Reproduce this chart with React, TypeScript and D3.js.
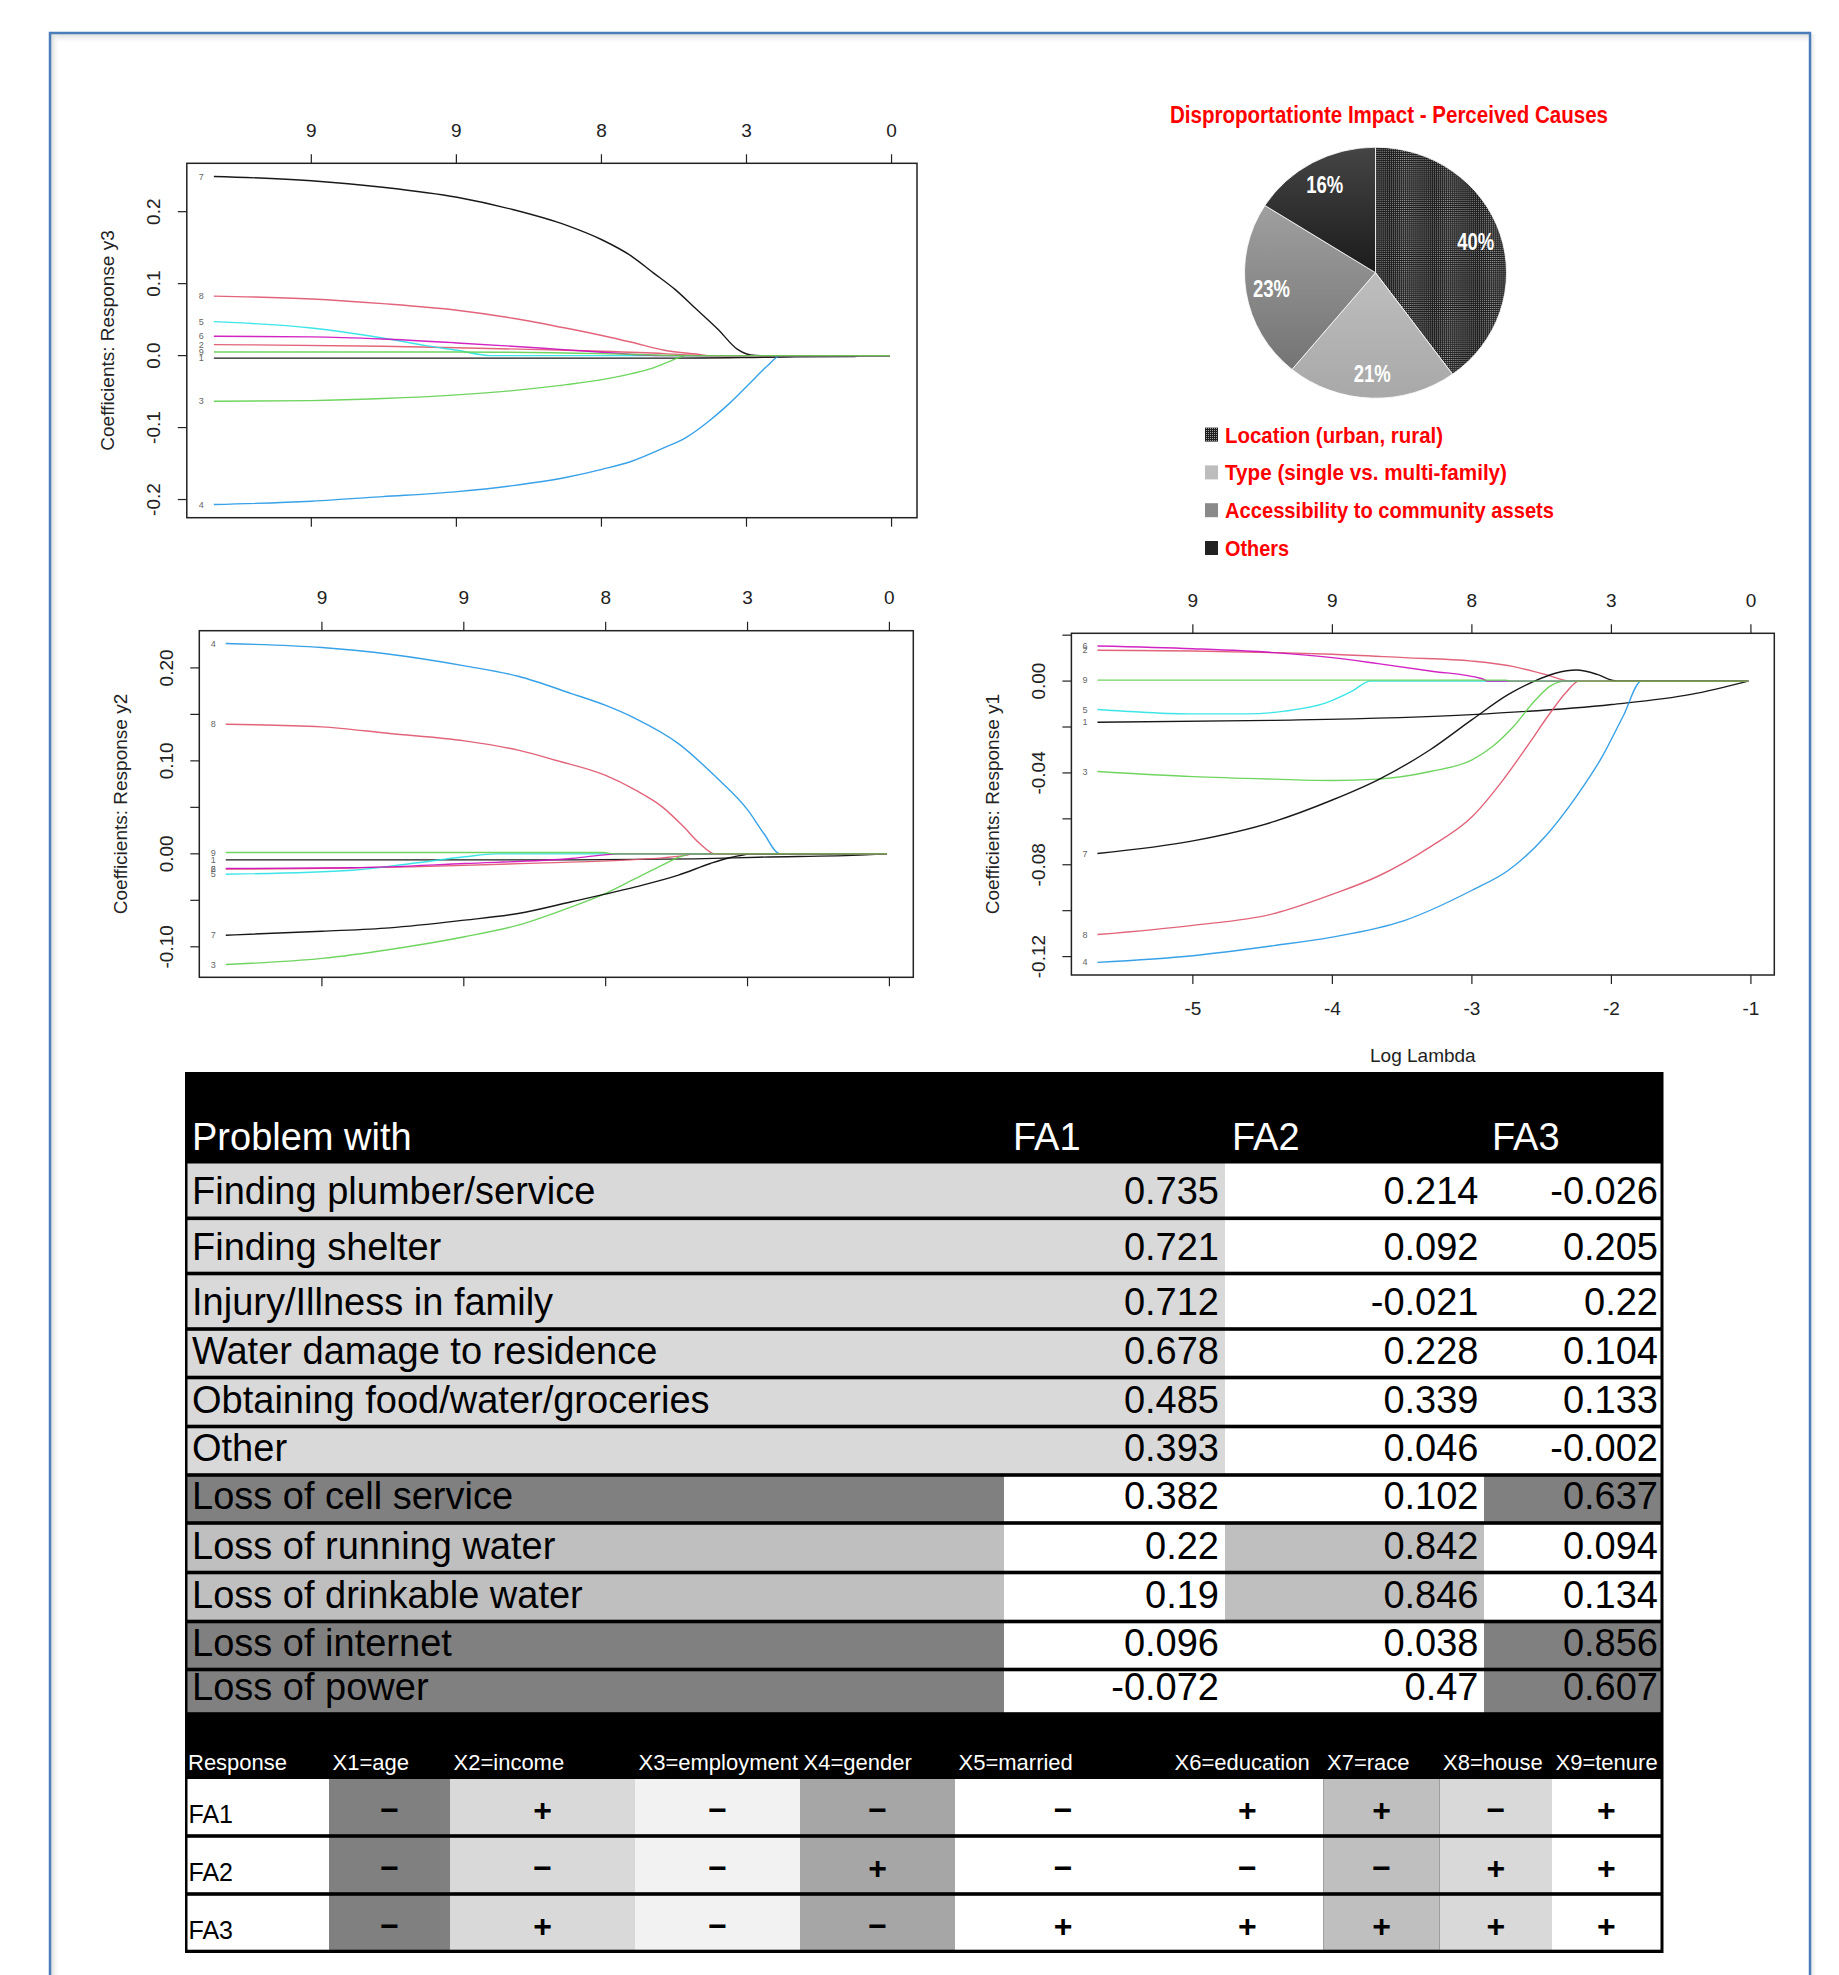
import React from "react";
import * as d3 from "d3";

type Pt = [number, number];
interface Series { v: number; pts: Pt[] }

// ---------- DATA ----------
const xTicks = [-5, -4, -3, -2, -1];
const xTickLabels = ["-5", "-4", "-3", "-2", "-1"];
const topCounts = ["9", "9", "8", "3", "0"];

const y3Ticks = [-0.2, -0.1, 0, 0.1, 0.2];
const y3TickLabels = ["-0.2", "-0.1", "0.0", "0.1", "0.2"];
const y2Ticks = [-0.1, -0.05, 0, 0.05, 0.1, 0.15, 0.2];
const y2TickLabels = ["-0.10", "", "0.00", "", "0.10", "", "0.20"];
const y1Ticks = [-0.12, -0.1, -0.08, -0.06, -0.04, -0.02, 0, 0.02];
const y1TickLabels = ["-0.12", "", "-0.08", "", "-0.04", "", "0.00", ""];

const y3Series: Series[] = [
  { v: 1, pts: [[-5.672, -0.0035], [-2.493, -0.0035], [-1.728, -0.0019], [-1.261, -0.0014], [-1.22, 0], [-1.011, 0]] },
  { v: 2, pts: [[-5.672, 0.0153], [-4.508, 0.013], [-3.996, 0.011], [-3.425, 0.0083], [-2.997, 0.006], [-2.567, 0.0028], [-2.306, 0], [-1.011, 0]] },
  { v: 3, pts: [[-5.672, -0.0634], [-5.0, -0.0625], [-4.508, -0.0597], [-3.996, -0.0546], [-3.612, -0.0486], [-3.239, -0.0403], [-2.997, -0.0333], [-2.791, -0.025], [-2.642, -0.0171], [-2.53, -0.0079], [-2.456, -0.0019], [-2.418, 0], [-1.011, 0]] },
  { v: 4, pts: [[-5.672, -0.207], [-5.0, -0.2023], [-4.508, -0.196], [-3.996, -0.189], [-3.612, -0.1806], [-3.239, -0.169], [-2.997, -0.158], [-2.791, -0.1468], [-2.567, -0.128], [-2.418, -0.114], [-2.269, -0.0926], [-2.119, -0.0667], [-1.97, -0.037], [-1.859, -0.0148], [-1.765, 0], [-1.011, 0]] },
  { v: 5, pts: [[-5.672, 0.0472], [-5.0, 0.0384], [-4.508, 0.0245], [-4.209, 0.0139], [-3.996, 0.0074], [-3.761, 0], [-1.011, 0]] },
  { v: 6, pts: [[-5.672, 0.0269], [-5.0, 0.026], [-4.508, 0.023], [-3.996, 0.0176], [-3.425, 0.0106], [-2.997, 0.0046], [-2.567, 0], [-1.011, 0]] },
  { v: 7, pts: [[-5.672, 0.249], [-5.0, 0.243], [-4.508, 0.234], [-3.996, 0.22], [-3.612, 0.203], [-3.239, 0.181], [-2.997, 0.161], [-2.791, 0.138], [-2.642, 0.115], [-2.493, 0.092], [-2.343, 0.064], [-2.194, 0.036], [-2.064, 0.009], [-1.97, 0.001], [-1.9, 0], [-1.011, 0]] },
  { v: 8, pts: [[-5.672, 0.0826], [-5.0, 0.0787], [-4.508, 0.0722], [-3.996, 0.063], [-3.612, 0.052], [-3.239, 0.038], [-2.997, 0.028], [-2.791, 0.0185], [-2.567, 0.0074], [-2.306, 0.001], [-2.269, 0], [-1.011, 0]] },
  { v: 9, pts: [[-5.672, 0.0051], [-3.996, 0.0051], [-2.997, 0.0028], [-2.38, 0], [-1.011, 0]] },
];

const y2Series: Series[] = [
  { v: 1, pts: [[-5.678, -0.0065], [-3.241, -0.0065], [-2.375, -0.0054], [-1.923, -0.0036], [-1.169, -0.0011], [-1.018, 0]] },
  { v: 2, pts: [[-5.678, -0.0165], [-4.371, -0.014], [-3.429, -0.0097], [-2.864, -0.0068], [-2.431, -0.0014], [-2.393, 0], [-1.018, 0]] },
  { v: 3, pts: [[-5.678, -0.119], [-5.0, -0.1125], [-4.522, -0.1029], [-3.994, -0.0892], [-3.617, -0.0767], [-3.241, -0.057], [-3.004, -0.0427], [-2.789, -0.0265], [-2.601, -0.0122], [-2.487, -0.0039], [-2.393, 0], [-1.018, 0]] },
  { v: 4, pts: [[-5.678, 0.2262], [-5.0, 0.2219], [-4.522, 0.2147], [-3.994, 0.2022], [-3.617, 0.191], [-3.241, 0.1724], [-3.004, 0.1599], [-2.789, 0.1455], [-2.487, 0.1186], [-2.224, 0.0828], [-1.998, 0.047], [-1.885, 0.0219], [-1.772, 0], [-1.018, 0]] },
  { v: 5, pts: [[-5.678, -0.0219], [-4.785, -0.0176], [-4.371, -0.0104], [-3.994, -0.0032], [-3.768, 0], [-1.018, 0]] },
  { v: 6, pts: [[-5.678, -0.0158], [-4.785, -0.015], [-3.994, -0.0104], [-3.241, -0.005], [-2.902, 0], [-1.018, 0]] },
  { v: 7, pts: [[-5.678, -0.0875], [-5.0, -0.0832], [-4.522, -0.0796], [-3.994, -0.0713], [-3.617, -0.0642], [-3.241, -0.0516], [-3.004, -0.0434], [-2.789, -0.0355], [-2.487, -0.0229], [-2.262, -0.0104], [-2.148, -0.005], [-2.017, -0.0007], [-1.998, 0], [-1.018, 0]] },
  { v: 8, pts: [[-5.678, 0.1394], [-5.0, 0.1366], [-4.522, 0.1294], [-3.994, 0.1215], [-3.617, 0.1115], [-3.354, 0.1007], [-3.004, 0.0846], [-2.789, 0.0685], [-2.601, 0.0505], [-2.45, 0.029], [-2.337, 0.0111], [-2.231, 0], [-1.018, 0]] },
  { v: 9, pts: [[-5.678, 0.0014], [-3.015, 0.0014], [-2.95, 0], [-1.018, 0]] },
];

const y1Series: Series[] = [
  { v: 1, pts: [[-5.684, -0.0179], [-4.42, -0.0171], [-2.999, -0.0146], [-1.998, -0.0102], [-1.43, -0.0058], [-1.019, 0]] },
  { v: 2, pts: [[-5.684, 0.0134], [-5.0, 0.0131], [-4.42, 0.0124], [-4.001, 0.0117], [-3.485, 0.0102], [-2.999, 0.0087], [-2.7, 0.0063], [-2.476, 0.0029], [-2.29, 0], [-1.019, 0]] },
  { v: 3, pts: [[-5.684, -0.0394], [-5.0, -0.0416], [-4.42, -0.0427], [-4.001, -0.0433], [-3.673, -0.0427], [-3.299, -0.0394], [-2.999, -0.0343], [-2.85, -0.0284], [-2.7, -0.0197], [-2.551, -0.0087], [-2.439, -0.0022], [-2.327, 0], [-1.019, 0]] },
  { v: 4, pts: [[-5.684, -0.1225], [-5.0, -0.1196], [-4.42, -0.1152], [-4.001, -0.1115], [-3.485, -0.1043], [-2.999, -0.0911], [-2.738, -0.0824], [-2.476, -0.0678], [-2.252, -0.0503], [-2.065, -0.0328], [-1.916, -0.0153], [-1.785, 0], [-1.019, 0]] },
  { v: 5, pts: [[-5.684, -0.0124], [-5.355, -0.0136], [-5.0, -0.0143], [-4.607, -0.0143], [-4.345, -0.0131], [-4.046, -0.0095], [-3.859, -0.0044], [-3.728, 0], [-1.019, 0]] },
  { v: 6, pts: [[-5.684, 0.0153], [-5.0, 0.0141], [-4.42, 0.0124], [-4.001, 0.0102], [-3.673, 0.0076], [-3.299, 0.0044], [-2.925, 0.001], [-2.888, 0], [-1.019, 0]] },
  { v: 7, pts: [[-5.684, -0.0751], [-5.0, -0.0696], [-4.42, -0.0612], [-4.001, -0.0518], [-3.673, -0.043], [-3.299, -0.0299], [-2.999, -0.0168], [-2.738, -0.0058], [-2.551, 0], [-2.402, 0.0034], [-2.252, 0.0048], [-2.102, 0.0029], [-1.99, 0.0003], [-1.953, 0], [-1.019, 0]] },
  { v: 8, pts: [[-5.684, -0.1104], [-5.0, -0.1064], [-4.42, -0.1013], [-4.001, -0.0929], [-3.673, -0.085], [-3.299, -0.0722], [-2.999, -0.0591], [-2.776, -0.043], [-2.588, -0.027], [-2.439, -0.0139], [-2.327, -0.0051], [-2.233, 0], [-1.019, 0]] },
  { v: 9, pts: [[-5.684, 0.0004], [-2.757, 0.0004], [-2.72, 0], [-1.019, 0]] },
];

const pieTitle = "Disproportationte Impact - Perceived Causes";
const pieLabels = ["Location (urban, rural)", "Type (single vs. multi-family)", "Accessibility to community assets", "Others"];
const pieValues = [40, 21, 23, 16];

const problems = [
  "Finding plumber/service", "Finding shelter", "Injury/Illness in family", "Water damage to residence",
  "Obtaining food/water/groceries", "Other", "Loss of cell service", "Loss of running water",
  "Loss of drinkable water", "Loss of internet", "Loss of power",
];
const fa1 = ["0.735", "0.721", "0.712", "0.678", "0.485", "0.393", "0.382", "0.22", "0.19", "0.096", "-0.072"];
const fa2 = ["0.214", "0.092", "-0.021", "0.228", "0.339", "0.046", "0.102", "0.842", "0.846", "0.038", "0.47"];
const fa3 = ["-0.026", "0.205", "0.22", "0.104", "0.133", "-0.002", "0.637", "0.094", "0.134", "0.856", "0.607"];
const loadsOn = [1, 1, 1, 1, 1, 1, 3, 2, 2, 3, 3];
const loadingHeader = ["Problem with", "FA1", "FA2", "FA3"];

const responseHeader = ["Response", "X1=age", "X2=income", "X3=employment", "X4=gender", "X5=married", "X6=education", "X7=race", "X8=house", "X9=tenure"];
const responses = ["FA1", "FA2", "FA3"];
const fa1Signs = ["-", "+", "-", "-", "-", "+", "+", "-", "+"];
const fa2Signs = ["-", "-", "-", "+", "-", "-", "-", "+", "+"];
const fa3Signs = ["-", "+", "-", "-", "+", "+", "+", "+", "+"];

// ---------- LAYOUT / STYLE ----------
const palette = ["#000000", "#DF536B", "#61D04F", "#2297E6", "#28E2E5", "#CD0BBC"];
const RFONT = "'Liberation Sans', Arial, Helvetica, sans-serif";
const TFONT = "'Liberation Sans', Arial, Helvetica, sans-serif";

interface Box { l: number; r: number; t: number; b: number }

function CoefPlot(props: {
  box: Box; series: Series[]; yTicks: number[]; yTickLabels: string[]; yTitle: string; bottomLabels: boolean; id: string;
}) {
  const { box, series, yTicks, yTickLabels, yTitle, bottomLabels, id } = props;
  const allX = series.flatMap((s) => s.pts.map((p) => p[0]));
  const allY = series.flatMap((s) => s.pts.map((p) => p[1]));
  const [x0, x1] = d3.extent(allX) as [number, number];
  const [v0, v1] = d3.extent(allY) as [number, number];
  const px = (x1 - x0) * 0.04;
  const py = (v1 - v0) * 0.04;
  const x = d3.scaleLinear().domain([x0 - px, x1 + px]).range([box.l, box.r]);
  const y = d3.scaleLinear().domain([v0 - py, v1 + py]).range([box.b, box.t]);
  const line = d3.line<Pt>().x((d) => x(d[0])).y((d) => y(d[1])).curve(d3.curveMonotoneX);
  const tl = 9;
  const cy = (box.t + box.b) / 2;
  return (
    <g>
      <defs>
        <clipPath id={`clip-${id}`}>
          <rect x={box.l} y={box.t} width={box.r - box.l} height={box.b - box.t} />
        </clipPath>
      </defs>
      <g clipPath={`url(#clip-${id})`}>
        {series.map((s) => (
          <path key={s.v} d={line(s.pts) || ""} fill="none" stroke={palette[(s.v - 1) % 6]} strokeWidth={1.4} strokeOpacity={0.9} />
        ))}
        {series.map((s) => (
          <text key={"l" + s.v} x={x(s.pts[0][0]) - 10} y={y(s.pts[0][1])} dy="0.35em" textAnchor="end" fontSize={9} fill="#666" fontFamily={RFONT}>{s.v}</text>
        ))}
      </g>
      <rect x={box.l} y={box.t} width={box.r - box.l} height={box.b - box.t} fill="none" stroke="#222" strokeWidth={1.5} />
      {xTicks.map((t, i) => (
        <g key={"xt" + i}>
          <line x1={x(t)} x2={x(t)} y1={box.t} y2={box.t - tl} stroke="#222" strokeWidth={1.2} />
          <line x1={x(t)} x2={x(t)} y1={box.b} y2={box.b + tl} stroke="#222" strokeWidth={1.2} />
          <text x={x(t)} y={box.t - 33} dy="0.35em" textAnchor="middle" fontSize={19} fill="#222" fontFamily={RFONT}>{topCounts[i]}</text>
          {bottomLabels && (
            <text x={x(t)} y={box.b + 33} dy="0.35em" textAnchor="middle" fontSize={19} fill="#222" fontFamily={RFONT}>{xTickLabels[i]}</text>
          )}
        </g>
      ))}
      {yTicks.map((t, i) => (
        <g key={"yt" + i}>
          <line x1={box.l} x2={box.l - tl} y1={y(t)} y2={y(t)} stroke="#222" strokeWidth={1.2} />
          {yTickLabels[i] && (
            <text transform={`translate(${box.l - 33},${y(t)}) rotate(-90)`} dy="0.35em" textAnchor="middle" fontSize={19} fill="#222" fontFamily={RFONT}>{yTickLabels[i]}</text>
          )}
        </g>
      ))}
      <text transform={`translate(${box.l - 79},${cy}) rotate(-90)`} dy="0.35em" textAnchor="middle" fontSize={19} fill="#222" fontFamily={RFONT}>{yTitle}</text>
      {bottomLabels && (
        <text x={(box.l + box.r) / 2} y={box.b + 80} dy="0.35em" textAnchor="middle" fontSize={19} fill="#222" fontFamily={RFONT}>Log Lambda</text>
      )}
    </g>
  );
}

function Pie() {
  const cx = 1375.5, cy = 272.7, R = 128;
  const sx = 131 / R, sy = 125.5 / R;
  const pie = d3.pie<number>().sort(null)(pieValues);
  const arc = d3.arc<d3.PieArcDatum<number>>().innerRadius(0).outerRadius(R);
  const labArc = d3.arc<d3.PieArcDatum<number>>().innerRadius(103).outerRadius(103);
  const fills = ["url(#dots)", "url(#gType)", "url(#gAcc)", "url(#gOth)"];
  const legendFills = ["url(#dots)", "#bdbdbd", "#8a8a8a", "#222222"];
  const legendW = [218, 282, 329, 64];
  return (
    <g>
      <defs>
        <pattern id="dots" width={2} height={2} patternUnits="userSpaceOnUse">
          <rect width={2} height={2} fill="#1e1e1e" />
          <rect width={1} height={1} fill="#a0a0a0" />
        </pattern>
        <linearGradient id="gType" x1="0" y1="0" x2="0" y2="1">
          <stop offset="0" stopColor="#bebebe" />
          <stop offset="1" stopColor="#a8a8a8" />
        </linearGradient>
        <linearGradient id="gAcc" x1="0" y1="0" x2="0" y2="1">
          <stop offset="0" stopColor="#9f9f9f" />
          <stop offset="1" stopColor="#747474" />
        </linearGradient>
        <linearGradient id="gOth" x1="0" y1="0" x2="0" y2="1">
          <stop offset="0" stopColor="#454545" />
          <stop offset="1" stopColor="#1b1b1b" />
        </linearGradient>
      </defs>
      <text x={1389} y={122.5} textAnchor="middle" fontSize={23} fontWeight="bold" fill="#ff0000" fontFamily={RFONT} textLength={438} lengthAdjust="spacingAndGlyphs">{pieTitle}</text>
      <g transform={`translate(${cx},${cy}) scale(${sx},${sy})`}>
        {pie.map((d, i) => (
          <path key={i} d={arc(d) || ""} fill={fills[i]} stroke="#ffffff" strokeWidth={0.8} />
        ))}
      </g>
      {pie.map((d, i) => {
        const c = labArc.centroid(d);
        return (
          <text key={"p" + i} x={cx + c[0] * sx} y={cy + c[1] * sy} dy="0.35em" textAnchor="middle" fontSize={24} fontWeight="bold" fill="#ffffff" fontFamily={RFONT} textLength={37} lengthAdjust="spacingAndGlyphs">{`${pieValues[i]}%`}</text>
        );
      })}
      {pieLabels.map((lab, i) => {
        const cyL = 434.6 + i * 37.8;
        return (
          <g key={"lg" + i}>
            <rect x={1205} y={cyL - 7} width={13} height={14} fill={legendFills[i]} />
            <text x={1225} y={cyL + 8} fontSize={22} fontWeight="bold" fill="#ff0000" fontFamily={RFONT} textLength={legendW[i]} lengthAdjust="spacingAndGlyphs">{lab}</text>
          </g>
        );
      })}
    </g>
  );
}

function LoadingTable() {
  const L = 187.5, Rr = 1660.5;
  const cols = [L, 1004, 1225, 1484, Rr];
  const edges = [1163, 1218.3, 1273.5, 1329, 1377.5, 1426.5, 1475, 1523, 1572.5, 1621.5, 1669.5, 1714];
  const half = 1.8;
  const grpFill: Record<number, string> = { 1: "#d9d9d9", 2: "#bfbfbf", 3: "#808080" };
  const valueRight = [1219, 1478.5, 1658];
  return (
    <g fontFamily={TFONT}>
      <rect x={185} y={1072} width={1478.5} height={1714 - 1072} fill="#000" />
      <text x={192} y={1150} fontSize={38} fill="#fff">{loadingHeader[0]}</text>
      <text x={1013} y={1150} fontSize={38} fill="#fff">{loadingHeader[1]}</text>
      <text x={1232} y={1150} fontSize={38} fill="#fff">{loadingHeader[2]}</text>
      <text x={1492} y={1150} fontSize={38} fill="#fff">{loadingHeader[3]}</text>
      {problems.map((p, i) => {
        const top = (i === 0 ? edges[0] + 0.5 : edges[i] + half);
        const bot = edges[i + 1] - half;
        const g = loadsOn[i];
        const fills = [
          grpFill[g],
          g === 1 ? grpFill[1] : "#ffffff",
          g === 2 ? grpFill[2] : "#ffffff",
          g === 3 ? grpFill[3] : "#ffffff",
        ];
        const base = edges[i + 1] - 14;
        const vals = [fa1[i], fa2[i], fa3[i]];
        return (
          <g key={i}>
            {fills.map((f, c) => (
              <rect key={c} x={cols[c]} y={top} width={cols[c + 1] - cols[c]} height={bot - top} fill={f} />
            ))}
            <text x={192} y={base} fontSize={38} fill="#000">{p}</text>
            {vals.map((v, c) => (
              <text key={"v" + c} x={valueRight[c]} y={base} fontSize={38} fill="#000" textAnchor="end">{v}</text>
            ))}
          </g>
        );
      })}
    </g>
  );
}

function SignTable() {
  const colEdges = [187.5, 329, 450, 635, 800, 955, 1171, 1323.5, 1439.5, 1552, 1660.5];
  const colFill = ["#ffffff", "#808080", "#d9d9d9", "#f2f2f2", "#a6a6a6", "#ffffff", "#ffffff", "#bfbfbf", "#d9d9d9", "#ffffff"];
  const rowEdges = [1779, 1836, 1894, 1951.5];
  const signs = [fa1Signs, fa2Signs, fa3Signs];
  return (
    <g fontFamily={TFONT}>
      <rect x={185} y={1714} width={1478.5} height={1953 - 1714} fill="#000" />
      {responseHeader.map((h, i) => (
        <text key={h} x={colEdges[i] + (i === 0 ? 0.5 : 3.5)} y={1770} fontSize={22} fill="#fff">{h}</text>
      ))}
      {responses.map((r, ri) => {
        const top = ri === 0 ? rowEdges[0] : rowEdges[ri] + 1.8;
        const bot = rowEdges[ri + 1] - 1.8;
        const mid = (top + bot) / 2;
        return (
          <g key={r}>
            {colFill.map((f, c) => (
              <rect key={c} x={colEdges[c]} y={top} width={colEdges[c + 1] - colEdges[c]} height={bot - top} fill={f} />
            ))}
            <text x={188.5} y={bot - 11} fontSize={25} fill="#000">{r}</text>
            {signs[ri].map((s, c) => (
              <text key={"s" + c} x={(colEdges[c + 1] + colEdges[c + 2]) / 2} y={mid + 3} dy="0.35em" textAnchor="middle" fontSize={32} fontWeight="bold" fill="#000">{s === "-" ? "\u2212" : "+"}</text>
            ))}
          </g>
        );
      })}
    </g>
  );
}

export default function App() {
  return (
    <svg width={1839} height={1975} viewBox="0 0 1839 1975" style={{ position: "absolute", left: 0, top: 0, display: "block", background: "#fff" }}>
      <defs>
        <linearGradient id="shTop" x1="0" y1="0" x2="0" y2="1">
          <stop offset="0" stopColor="#d8d8d8" stopOpacity={0.9} />
          <stop offset="1" stopColor="#ffffff" stopOpacity={0} />
        </linearGradient>
        <linearGradient id="shLeft" x1="0" y1="0" x2="1" y2="0">
          <stop offset="0" stopColor="#d8d8d8" stopOpacity={0.9} />
          <stop offset="1" stopColor="#ffffff" stopOpacity={0} />
        </linearGradient>
        <linearGradient id="shRight" x1="0" y1="0" x2="1" y2="0">
          <stop offset="0" stopColor="#e0e0e0" stopOpacity={0.8} />
          <stop offset="1" stopColor="#ffffff" stopOpacity={0} />
        </linearGradient>
      </defs>
      <rect x={0} y={0} width={1839} height={1975} fill="#ffffff" />
      <rect x={51.2} y={34.2} width={1757.6} height={10} fill="url(#shTop)" />
      <rect x={51.2} y={34.2} width={9} height={1960} fill="url(#shLeft)" />
      <rect x={1811.2} y={34.2} width={7} height={1960} fill="url(#shRight)" />
      <rect x={50} y={33} width={1760} height={2000} fill="none" stroke="#4a7ebb" strokeWidth={2.5} />

      <CoefPlot id="p1" box={{ l: 186.8, r: 917, t: 163.3, b: 517.7 }} series={y3Series} yTicks={y3Ticks} yTickLabels={y3TickLabels} yTitle="Coefficients: Response y3" bottomLabels={false} />
      <CoefPlot id="p2" box={{ l: 199.3, r: 913.3, t: 630.7, b: 977.3 }} series={y2Series} yTicks={y2Ticks} yTickLabels={y2TickLabels} yTitle="Coefficients: Response y2" bottomLabels={false} />
      <CoefPlot id="p3" box={{ l: 1071.4, r: 1774.3, t: 633.3, b: 975 }} series={y1Series} yTicks={y1Ticks} yTickLabels={y1TickLabels} yTitle="Coefficients: Response y1" bottomLabels={true} />
      <Pie />
      <LoadingTable />
      <SignTable />
    </svg>
  );
}
